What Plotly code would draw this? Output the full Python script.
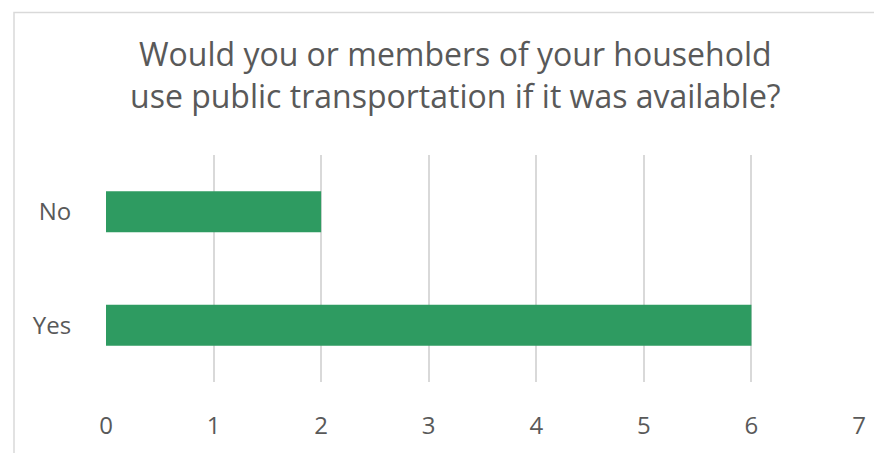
import plotly.graph_objects as go

categories = ["Yes", "No"]
values = [6, 2]
x_ticks = [0, 1, 2, 3, 4, 5, 6, 7]
title_lines = ["Would you or members of your household",
               "use public transportation if it was available?"]

OFF = 8  # page body margin
W, H = 882 - OFF, 453 - OFF
L, R, T, B = 106 - OFF, 23, 155 - OFF, 67
pw, ph = W - L - R, H - T - B

def px_x(x):
    return (x - OFF - L) / pw

def px_y(y):
    return (H - B - (y - OFF)) / ph

TEXT = "#595959"
FONT = "Open Sans"

fig = go.Figure(go.Bar(
    x=values, y=categories, orientation="h",
    marker=dict(color="#2E9B61", line=dict(width=0)),
    width=0.36,
))

fig.update_layout(
    width=W, height=H,
    margin=dict(l=L, r=R, t=T, b=B),
    paper_bgcolor="white", plot_bgcolor="white",
    showlegend=False,
    font=dict(family=FONT, color=TEXT),
    xaxis=dict(range=[0, 7], tickvals=x_ticks, showgrid=True, gridcolor="#d9d9d9",
               gridwidth=1.5, zeroline=False, showline=False,
               ticks="outside", ticklen=22, tickcolor="rgba(0,0,0,0)",
               tickfont=dict(size=24, color=TEXT, family=FONT)),
    yaxis=dict(type="category", categoryorder="array", categoryarray=categories,
               range=[-0.5, 1.5], showgrid=False, zeroline=False, showline=False,
               ticks="outside", ticklen=29, tickcolor="rgba(0,0,0,0)",
               tickfont=dict(size=24, color=TEXT, family=FONT)),
    shapes=[dict(type="rect", xref="paper", yref="paper",
                 x0=px_x(14), x1=px_x(1000), y0=px_y(600), y1=px_y(10),
                 line=dict(color="#d9d9d9", width=1.5), layer="below")],
)

for i, line in enumerate(title_lines):
    fig.add_annotation(text=line, xref="paper", yref="paper",
                       x=px_x(455), y=px_y(52 + 42 * i), xanchor="center", yanchor="middle",
                       showarrow=False, font=dict(size=32, color=TEXT, family=FONT))

fig.write_html("out.html")
